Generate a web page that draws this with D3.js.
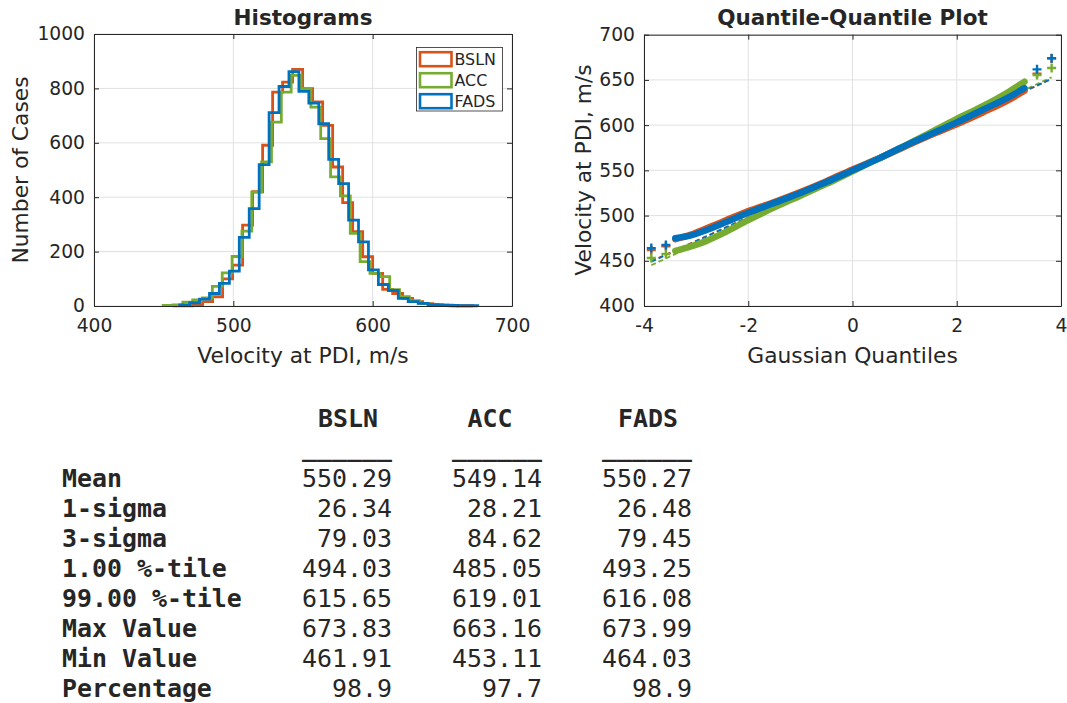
<!DOCTYPE html>
<html>
<head>
<meta charset="utf-8">
<script src="https://cdn.jsdelivr.net/npm/d3@7"></script>
<style>
  body { margin: 0; background: #fff; }
  svg { display: block; }
  text { fill: #262626; }
</style>
</head>
<body>
<svg id="fig" width="1067" height="703"></svg>
<script>
// ---- series ----
const seriesNames = ["BSLN", "ACC", "FADS"];
const seriesColors = ["#D95319", "#77AC30", "#0072BD"];

// ---- histogram bins: first edge (m/s), bin width (m/s), counts ----
const binStart = [456.4, 449.6, 461.5];
const binWidth = [7.18, 7.07, 7.13];
const bslnCounts = [1, 1, 3, 16, 34, 100, 150, 297, 420, 591, 786, 823, 870, 799, 750, 664, 511, 380, 273, 181, 120, 61, 46, 28, 16, 9, 5, 3, 1, 1];
const accCounts  = [2, 4, 14, 22, 30, 72, 122, 182, 275, 419, 530, 676, 786, 848, 799, 731, 615, 475, 405, 267, 163, 120, 108, 60, 34, 20, 10, 5, 2, 1];
const fadsCounts = [4, 12, 25, 46, 83, 128, 252, 358, 520, 711, 807, 862, 789, 746, 670, 539, 450, 316, 236, 133, 79, 57, 28, 16, 10, 5, 3, 2, 1, 1];

// ---- histogram axes ----
const histXTicks = [400, 500, 600, 700];
const histYTicks = [0, 200, 400, 600, 800, 1000];

// ---- quantile-quantile: dense part of each sample ----
const qqQuantiles = [-3.4, -3.1, -2.8, -2.5, -2.0, -1.5, -1.0, -0.5, 0, 0.5, 1.0, 1.5, 2.0, 2.5, 3.0, 3.3];
const bslnQQ = [474, 479, 486, 493, 505, 515, 526, 538, 551, 563, 576, 589, 601, 614, 628, 638];
const accQQ  = [461, 466, 472, 480, 495, 509, 522, 535, 549, 563, 577, 592, 607, 621, 637, 648];
const fadsQQ = [475, 478, 484, 491, 503, 514, 525, 537, 550, 563, 577, 590, 603, 617, 631, 641];
// isolated extreme samples
const tailQuantiles = [-3.86, -3.58, 3.54, 3.82];
const bslnTail = [461.9, 466.0, 657.0, 673.8];
const accTail  = [453.1, 457.5, 655.4, 663.2];
const fadsTail = [464.0, 467.5, 661.7, 674.0];
// fitted reference lines: [q0, v0, q1, v1]
const bslnRef = [-3.86, 449.5, 3.82, 651.0];
const accRef  = [-3.86, 445.0, 3.82, 653.0];
const fadsRef = [-3.86, 449.0, 3.82, 651.3];

const qqXTicks = [-4, -2, 0, 2, 4];
const qqYTicks = [400, 450, 500, 550, 600, 650, 700];

// ---- statistics table ----
const statLabels = ["Mean", "1-sigma", "3-sigma", "1.00 %-tile", "99.00 %-tile", "Max Value", "Min Value", "Percentage"];
const bslnStats = [550.29, 26.34, 79.03, 494.03, 615.65, 673.83, 461.91, 98.9];
const accStats  = [549.14, 28.21, 84.62, 485.05, 619.01, 663.16, 453.11, 97.7];
const fadsStats = [550.27, 26.48, 79.45, 493.25, 616.08, 673.99, 464.03, 98.9];

const countsBySeries = [bslnCounts, accCounts, fadsCounts];
const qqBySeries = [bslnQQ, accQQ, fadsQQ];
const tailBySeries = [bslnTail, accTail, fadsTail];
const refBySeries = [bslnRef, accRef, fadsRef];
const statsBySeries = [bslnStats, accStats, fadsStats];

const svg = d3.select("#fig");
svg.append("rect").attr("width", 1067).attr("height", 703).attr("fill", "#fff");

const FONT = "'DejaVu Sans', sans-serif";
const MONO = "'DejaVu Sans Mono', monospace";
const AXIS_COLOR = "#262626";
const GRID_COLOR = "#e1e1e1";
// integer tick labels with a plain hyphen for negatives
const tickFmt = d => String(Math.round(d));

function drawFrame(g, x, y, xTicks, yTicks) {
  const [x0, x1] = x.range();
  const [y0, y1] = y.range();
  g.append("g").selectAll("line").data(xTicks).join("line")
    .attr("x1", d => x(d)).attr("x2", d => x(d)).attr("y1", y0).attr("y2", y1)
    .attr("stroke", GRID_COLOR).attr("stroke-width", 1);
  g.append("g").selectAll("line").data(yTicks).join("line")
    .attr("y1", d => y(d)).attr("y2", d => y(d)).attr("x1", x0).attr("x2", x1)
    .attr("stroke", GRID_COLOR).attr("stroke-width", 1);
}

function drawAxes(g, x, y, xTicks, yTicks, xPad, yPad) {
  const [x0, x1] = x.range();
  const [y0, y1] = y.range();
  const style = sel => {
    sel.select(".domain").attr("stroke", AXIS_COLOR).attr("stroke-width", 1);
    sel.selectAll(".tick line").attr("stroke", AXIS_COLOR);
    sel.selectAll(".tick text").attr("font-family", FONT).attr("font-size", 18.7).attr("fill", AXIS_COLOR);
  };
  g.append("g").attr("transform", `translate(0,${y0})`)
    .call(d3.axisBottom(x).tickValues(xTicks).tickSize(-5).tickPadding(xPad).tickSizeOuter(0).tickFormat(tickFmt))
    .call(style);
  g.append("g").attr("transform", `translate(0,${y1})`)
    .call(d3.axisTop(x).tickValues(xTicks).tickSize(-5).tickSizeOuter(0).tickFormat(""))
    .call(style);
  g.append("g").attr("transform", `translate(${x0},0)`)
    .call(d3.axisLeft(y).tickValues(yTicks).tickSize(-5).tickPadding(yPad).tickSizeOuter(0).tickFormat(tickFmt))
    .call(style);
  g.append("g").attr("transform", `translate(${x1},0)`)
    .call(d3.axisRight(y).tickValues(yTicks).tickSize(-5).tickSizeOuter(0).tickFormat(""))
    .call(style);
}

// ================= Histograms =================
const hx = d3.scaleLinear().domain([400, 700]).range([94, 512]);
const hy = d3.scaleLinear().domain([0, 1000]).range([306, 34]);
const hg = svg.append("g");
drawFrame(hg, hx, hy, histXTicks, histYTicks);

function stairPoints(start, width, counts) {
  const pts = [[start, 0]];
  counts.forEach((c, i) => {
    pts.push([start + i * width, c]);
    pts.push([start + (i + 1) * width, c]);
  });
  pts.push([start + counts.length * width, 0]);
  return pts;
}
const stairLine = d3.line().x(d => hx(d[0])).y(d => hy(d[1]));
seriesNames.forEach((name, i) => {
  hg.append("path")
    .datum(stairPoints(binStart[i], binWidth[i], countsBySeries[i]))
    .attr("d", stairLine)
    .attr("fill", "none")
    .attr("stroke", seriesColors[i])
    .attr("stroke-width", 2.8)
    .attr("stroke-linejoin", "miter");
});
drawAxes(hg, hx, hy, histXTicks, histYTicks, 13, 9);

hg.append("text").attr("x", 303).attr("y", 25).attr("text-anchor", "middle")
  .attr("font-family", FONT).attr("font-weight", "bold").attr("font-size", 21.5).text("Histograms");
hg.append("text").attr("x", 303).attr("y", 363).attr("text-anchor", "middle")
  .attr("font-family", FONT).attr("font-size", 21.8).text("Velocity at PDI, m/s");
hg.append("text").attr("transform", "translate(28,170) rotate(-90)").attr("text-anchor", "middle")
  .attr("font-family", FONT).attr("font-size", 21.8).text("Number of Cases");

// legend
const lg = hg.append("g");
lg.append("rect").attr("x", 416.5).attr("y", 47.5).attr("width", 86).attr("height", 63.5)
  .attr("fill", "#fff").attr("stroke", AXIS_COLOR).attr("stroke-width", 0.8);
seriesNames.forEach((name, i) => {
  const cy = 59.2 + i * 21;
  lg.append("rect").attr("x", 420).attr("y", cy - 7).attr("width", 31.5).attr("height", 14)
    .attr("fill", "none").attr("stroke", seriesColors[i]).attr("stroke-width", 2.6);
  lg.append("text").attr("x", 454.5).attr("y", cy + 5.6)
    .attr("font-family", FONT).attr("font-size", 15.9).text(name);
});

// ================= Quantile-Quantile =================
const qx = d3.scaleLinear().domain([-4, 4]).range([644, 1061]);
const qy = d3.scaleLinear().domain([400, 700]).range([306, 34.7]);
const qg = svg.append("g");
drawFrame(qg, qx, qy, qqXTicks, qqYTicks);

// reference lines
seriesNames.forEach((name, i) => {
  const r = refBySeries[i];
  qg.append("line")
    .attr("x1", qx(r[0])).attr("y1", qy(r[1])).attr("x2", qx(r[2])).attr("y2", qy(r[3]))
    .attr("stroke", seriesColors[i]).attr("stroke-width", 1.8).attr("stroke-dasharray", "5,3");
});

// dense bands of plotted samples
const qqLine = d3.line().x(d => qx(d[0])).y(d => qy(d[1])).curve(d3.curveMonotoneX);
seriesNames.forEach((name, i) => {
  const pts = qqQuantiles.map((q, k) => [q, qqBySeries[i][k]]);
  qg.append("path").datum(pts).attr("d", qqLine)
    .attr("fill", "none").attr("stroke", seriesColors[i])
    .attr("stroke-width", 6.5).attr("stroke-linecap", "round");
});

// isolated samples as plus markers
seriesNames.forEach((name, i) => {
  const gg = qg.append("g");
  tailQuantiles.forEach((q, k) => {
    const cx = qx(q), cy = qy(tailBySeries[i][k]);
    gg.append("path")
      .attr("d", `M${cx - 4.5},${cy}H${cx + 4.5}M${cx},${cy - 4.5}V${cy + 4.5}`)
      .attr("stroke", seriesColors[i]).attr("stroke-width", 2.4).attr("fill", "none");
  });
});
drawAxes(qg, qx, qy, qqXTicks, qqYTicks, 13, 9);

qg.append("text").attr("x", 852.5).attr("y", 25).attr("text-anchor", "middle")
  .attr("font-family", FONT).attr("font-weight", "bold").attr("font-size", 21.5).text("Quantile-Quantile Plot");
qg.append("text").attr("x", 852.5).attr("y", 363).attr("text-anchor", "middle")
  .attr("font-family", FONT).attr("font-size", 21.8).text("Gaussian Quantiles");
qg.append("text").attr("transform", "translate(591,170) rotate(-90)").attr("text-anchor", "middle")
  .attr("font-family", FONT).attr("font-size", 21.8).text("Velocity at PDI, m/s");

// ================= Statistics table =================
const tg = svg.append("g").attr("font-family", MONO).attr("font-size", 24.9);
const colRight = [392, 542, 692];
const headerCenter = [348, 490, 648];
const rowBase = 486.5, rowStep = 30.1;

seriesNames.forEach((name, i) => {
  tg.append("text").attr("x", headerCenter[i]).attr("y", 427).attr("text-anchor", "middle")
    .attr("font-weight", "bold").text(name);
  tg.append("text").attr("x", colRight[i]).attr("y", 456).attr("text-anchor", "end")
    .attr("font-weight", "bold").text("______");
});
statLabels.forEach((lab, r) => {
  const yb = rowBase + r * rowStep;
  tg.append("text").attr("x", 62).attr("y", yb).attr("font-weight", "bold").text(lab);
  statsBySeries.forEach((st, i) => {
    const fmt = lab === "Percentage" ? d3.format(".1f") : d3.format(".2f");
    tg.append("text").attr("x", colRight[i]).attr("y", yb).attr("text-anchor", "end").text(fmt(st[r]));
  });
});
</script>
</body>
</html>
